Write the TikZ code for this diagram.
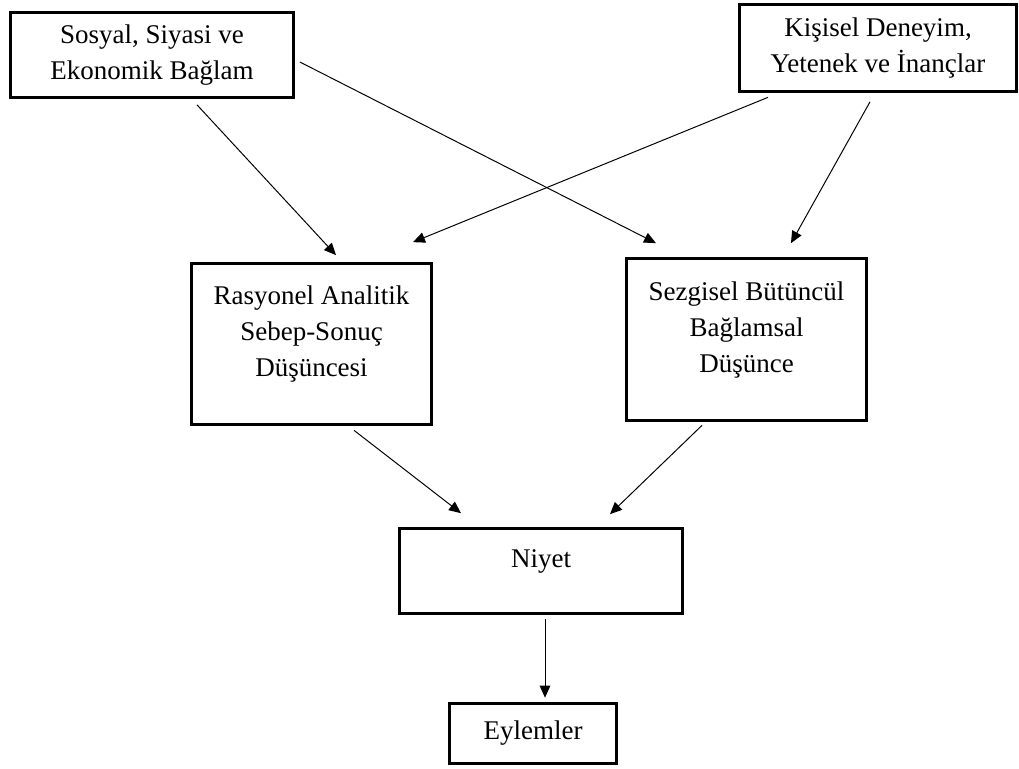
\documentclass[tikz,border=0pt]{standalone}
\usepackage{fontspec}
\setmainfont{Liberation Serif}
\usetikzlibrary{arrows.meta,calc}

\begin{document}
\begin{tikzpicture}[x=0.025cm,y=-0.025cm,
  kutu/.style={draw,line width=2.6pt,align=center,inner sep=0pt,
    font=\fontsize{19.2}{25.5}\selectfont},
  yukari/.style={text depth=18pt},
  ok/.style={-{Triangle[length=8.5pt,width=7.5pt]},line width=0.7pt}]
\useasboundingbox (0,0) rectangle (1019,769);
\node[kutu,minimum width=7.075cm,minimum height=2.125cm] (sosyal) at (152,55)
  {Sosyal, Siyasi ve\\Ekonomik Bağlam};
\node[kutu,minimum width=6.925cm,minimum height=2.175cm] (kisisel) at (878,48)
  {Kişisel Deneyim,\\Yetenek ve İnançlar};
\node[kutu,yukari,minimum width=6cm,minimum height=4.025cm] (rasyonel) at (311.5,344)
  {Rasyonel Analitik\\Sebep-Sonuç\\Düşüncesi};
\node[kutu,yukari,minimum width=6cm,minimum height=4.05cm] (sezgisel) at (746.5,339.5)
  {Sezgisel Bütüncül\\Bağlamsal\\Düşünce};
\node[kutu,yukari,minimum width=7.075cm,minimum height=2.125cm] (niyet) at (541,571)
  {Niyet};
\node[kutu,minimum width=4.175cm,minimum height=1.5cm] (eylemler) at (533,733.5)
  {Eylemler};
\draw[ok] ($(sosyal.south)+(45,5.5)$) -- ($(rasyonel.north)+(24.5,-6.5)$);
\draw[ok] ($(sosyal.east)+(4.5,7)$) -- ($(sezgisel.north)+(-90.5,-13.5)$);
\draw[ok] ($(kisisel.south)+(-110,4)$) -- ($(rasyonel.north)+(101.5,-19.5)$);
\draw[ok] ($(kisisel.south)+(-8,8.5)$) -- ($(sezgisel.north)+(44.5,-13.5)$);
\draw[ok] ($(rasyonel.south)+(42.5,4)$) -- ($(niyet.north)+(-80,-13.5)$);
\draw[ok] ($(sezgisel.south)+(-44.5,3)$) -- ($(niyet.north)+(69,-12.5)$);
\draw[ok] ($(niyet.south)+(4,3.5)$) -- ($(eylemler.north)+(12,-4)$);
\end{tikzpicture}
\end{document}
